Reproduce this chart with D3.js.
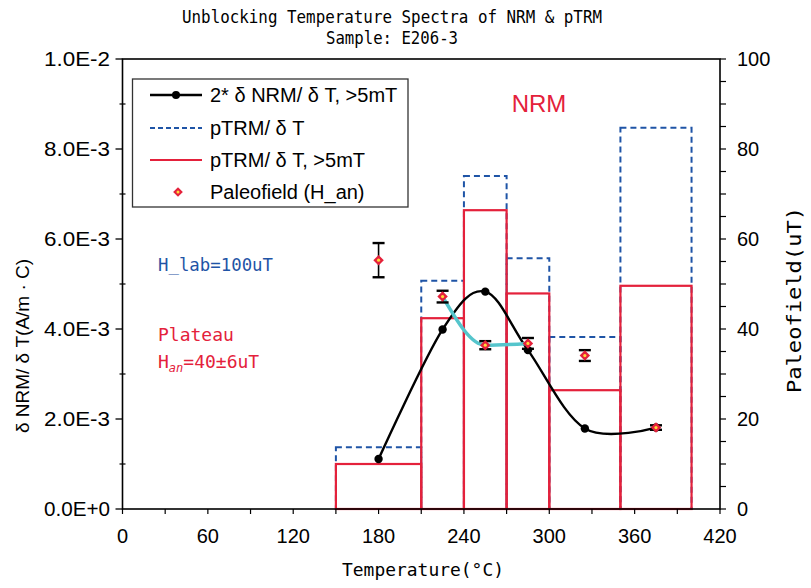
<!DOCTYPE html>
<html>
<head>
<meta charset="utf-8">
<script src="https://cdn.jsdelivr.net/npm/d3@7"></script>
<style>
  html, body { margin: 0; padding: 0; background: #fff; }
  svg { display: block; }
  .sans { font-family: "Liberation Sans", Arial, sans-serif; }
  .mono { font-family: "DejaVu Sans Mono", monospace; }
</style>
</head>
<body>
<svg id="chart" width="811" height="588"></svg>
<script>
// Temperature bins (°C) for the pTRM histograms
const binEdges = [150, 210, 240, 270, 300, 350, 400];
// pTRM/δT, all steps (A/m·C)
const pTRM = [1.37e-3, 5.07e-3, 7.40e-3, 5.57e-3, 3.82e-3, 8.47e-3];
// pTRM/δT, >5mT (A/m·C)
const pTRM5 = [1.00e-3, 4.24e-3, 6.64e-3, 4.79e-3, 2.64e-3, 4.96e-3];
// 2*δNRM/δT, >5mT, at bin midpoints
const nrmTemps = [180, 225, 255, 285, 325, 375];
const nrmValues = [1.11e-3, 3.99e-3, 4.83e-3, 3.53e-3, 1.79e-3, 1.81e-3];
// Paleofield estimates (uT) with errors
const paleoTemps = [180, 225, 255, 285, 325, 375];
const paleoValues = [55.3, 47.2, 36.4, 36.8, 34.1, 18.1];
const paleoErrors = [3.8, 1.3, 0.9, 1.2, 1.2, 0.5];
// Steps that form the plateau
const plateauIdx = [1, 2, 3];

// Axis ticks
const xTickLabels = [0, 60, 120, 180, 240, 300, 360, 420];
const xMinorTicks = d3.range(0, 421, 30);
const yLeftLabels = ["0.0E+0", "2.0E-3", "4.0E-3", "6.0E-3", "8.0E-3", "1.0E-2"];
const yLeftTicks = [0, 0.002, 0.004, 0.006, 0.008, 0.010];
const yLeftMinor = [0.001, 0.003, 0.005, 0.007, 0.009];
const yRightTicks = [0, 20, 40, 60, 80, 100];
const yRightMinor = d3.range(0, 101, 5);

const RED = "#e4213b", BLUE = "#1f54a6", CYAN = "#55c5cc";

const svg = d3.select("#chart");
const L = 122.5, R = 720, T = 59, B = 509;
const x = d3.scaleLinear().domain([0, 420]).range([L, R]);
const yL = d3.scaleLinear().domain([0, 0.01]).range([B, T]);
const yR = d3.scaleLinear().domain([0, 100]).range([B, T]);

// Titles
svg.append("text").attr("class", "mono").attr("x", 392).attr("y", 23)
  .attr("text-anchor", "middle").attr("font-size", 17)
  .attr("textLength", 420).attr("lengthAdjust", "spacingAndGlyphs")
  .text("Unblocking Temperature Spectra of NRM & pTRM");
svg.append("text").attr("class", "mono").attr("x", 392).attr("y", 44)
  .attr("text-anchor", "middle").attr("font-size", 17)
  .attr("textLength", 132).attr("lengthAdjust", "spacingAndGlyphs")
  .text("Sample: E206-3");

// pTRM/δT (dashed blue) bars
const bins = pTRM.map((v, i) => ({x0: binEdges[i], x1: binEdges[i + 1], v, v5: pTRM5[i]}));
svg.append("g").selectAll("rect").data(bins).join("rect")
  .attr("x", d => x(d.x0)).attr("width", d => x(d.x1) - x(d.x0))
  .attr("y", d => yL(d.v)).attr("height", d => yL(0) - yL(d.v))
  .attr("fill", "none").attr("stroke", BLUE).attr("stroke-width", 2)
  .attr("stroke-dasharray", "6,4");

// pTRM/δT >5mT (solid red) bars
svg.append("g").selectAll("rect").data(bins).join("rect")
  .attr("x", d => x(d.x0)).attr("width", d => x(d.x1) - x(d.x0))
  .attr("y", d => yL(d.v5)).attr("height", d => yL(0) - yL(d.v5))
  .attr("fill", "none").attr("stroke", RED).attr("stroke-width", 2.2);

// Axes frame
const ax = svg.append("g").attr("stroke", "#000").attr("fill", "none");
ax.append("rect").attr("x", L).attr("y", T).attr("width", R - L).attr("height", B - T)
  .attr("stroke-width", 1.6);

// Bottom axis ticks and labels
ax.selectAll(".xt").data(xMinorTicks).join("line")
  .attr("x1", d => x(d)).attr("x2", d => x(d)).attr("y1", B).attr("y2", B + 5)
  .attr("stroke-width", 1.2);
svg.append("g").selectAll("text").data(xTickLabels).join("text")
  .attr("class", "sans").attr("x", d => x(d)).attr("y", 543)
  .attr("text-anchor", "middle").attr("font-size", 20).text(d => d);

// Left axis
ax.selectAll(".yl").data(yLeftTicks).join("line")
  .attr("x1", L - 7).attr("x2", L).attr("y1", d => yL(d)).attr("y2", d => yL(d))
  .attr("stroke-width", 1.3);
ax.selectAll(".ylm").data(yLeftMinor).join("line")
  .attr("x1", L - 3).attr("x2", L + 3).attr("y1", d => yL(d)).attr("y2", d => yL(d))
  .attr("stroke-width", 1.2);
svg.append("g").selectAll("text").data(yLeftTicks).join("text")
  .attr("class", "sans").attr("x", 110).attr("y", d => yL(d) + 7)
  .attr("text-anchor", "end").attr("font-size", 20)
  .attr("textLength", 66).attr("lengthAdjust", "spacingAndGlyphs")
  .text((d, i) => yLeftLabels[i]);

// Right axis
ax.selectAll(".yrm").data(yRightMinor).join("line")
  .attr("x1", R).attr("x2", R + 6).attr("y1", d => yR(d)).attr("y2", d => yR(d))
  .attr("stroke-width", 1.2);
svg.append("g").selectAll("text").data(yRightTicks).join("text")
  .attr("class", "sans").attr("x", 737).attr("y", d => yR(d) + 7)
  .attr("font-size", 20).text(d => d);

// Axis titles
svg.append("text").attr("class", "mono").attr("x", 423).attr("y", 576)
  .attr("text-anchor", "middle").attr("font-size", 18)
  .attr("textLength", 162).attr("lengthAdjust", "spacingAndGlyphs")
  .text("Temperature(°C)");
svg.append("text").attr("class", "mono")
  .attr("transform", "translate(801,300) rotate(-90)")
  .attr("text-anchor", "middle").attr("font-size", 20)
  .attr("textLength", 186).attr("lengthAdjust", "spacingAndGlyphs")
  .text("Paleofield(uT)");
svg.append("text").attr("class", "sans")
  .attr("transform", "translate(29,346) rotate(-90)")
  .attr("text-anchor", "middle").attr("font-size", 19)
  .text("δ NRM/ δ T(A/m · C)");

// 2*δNRM/δT smooth curve
const nrmPts = nrmTemps.map((t, i) => [x(t), yL(nrmValues[i])]);
svg.append("path").datum(nrmPts)
  .attr("d", d3.line().curve(d3.curveCardinal.tension(0)))
  .attr("fill", "none").attr("stroke", "#000").attr("stroke-width", 2.4);
svg.append("g").selectAll("circle").data(nrmPts).join("circle")
  .attr("cx", d => d[0]).attr("cy", d => d[1]).attr("r", 4.2).attr("fill", "#000");

// Plateau fit line
const platPts = plateauIdx.map(i => [x(paleoTemps[i]), yR(paleoValues[i])]);
svg.append("path").datum(platPts)
  .attr("d", d3.line().curve(d3.curveMonotoneX))
  .attr("fill", "none").attr("stroke", CYAN).attr("stroke-width", 3.5);

// Paleofield points with error bars
const paleo = paleoTemps.map((t, i) => ({t, v: paleoValues[i], e: paleoErrors[i]}));
const pg = svg.append("g").selectAll("g").data(paleo).join("g");
pg.append("line").attr("x1", d => x(d.t)).attr("x2", d => x(d.t))
  .attr("y1", d => yR(d.v + d.e)).attr("y2", d => yR(d.v - d.e))
  .attr("stroke", "#000").attr("stroke-width", 1.6);
pg.selectAll("line.cap").data(d => [d.v + d.e, d.v - d.e].map(v => ({t: d.t, v})))
  .join("line").attr("class", "cap")
  .attr("x1", d => x(d.t) - 6).attr("x2", d => x(d.t) + 6)
  .attr("y1", d => yR(d.v)).attr("y2", d => yR(d.v))
  .attr("stroke", "#000").attr("stroke-width", 2.4);
pg.append("path")
  .attr("d", d3.symbol().type(d3.symbolDiamond2).size(70))
  .attr("transform", d => `translate(${x(d.t)},${yR(d.v)})`)
  .attr("fill", RED);
pg.append("circle").attr("cx", d => x(d.t)).attr("cy", d => yR(d.v)).attr("r", 1.6)
  .attr("fill", "#ffd83a");

// Legend
const lg = svg.append("g");
lg.append("rect").attr("x", 132.5).attr("y", 79).attr("width", 275.5).attr("height", 128)
  .attr("fill", "#fff").attr("stroke", "#333").attr("stroke-width", 1.3);
const legendRows = [
  {label: "2* δ NRM/ δ T, >5mT", kind: "nrm"},
  {label: "pTRM/ δ T", kind: "ptrm"},
  {label: "pTRM/ δ T, >5mT", kind: "ptrm5"},
  {label: "Paleofield (H_an)", kind: "paleo"}
];
const rowY = [95, 128, 160, 192];
legendRows.forEach((r, i) => {
  const y = rowY[i];
  if (r.kind === "nrm") {
    lg.append("line").attr("x1", 150).attr("x2", 202).attr("y1", y).attr("y2", y)
      .attr("stroke", "#000").attr("stroke-width", 2.4);
    lg.append("circle").attr("cx", 176).attr("cy", y).attr("r", 4).attr("fill", "#000");
  } else if (r.kind === "ptrm") {
    lg.append("line").attr("x1", 150).attr("x2", 202).attr("y1", y).attr("y2", y)
      .attr("stroke", BLUE).attr("stroke-width", 2).attr("stroke-dasharray", "5,3");
  } else if (r.kind === "ptrm5") {
    lg.append("line").attr("x1", 150).attr("x2", 202).attr("y1", y).attr("y2", y)
      .attr("stroke", RED).attr("stroke-width", 2.2);
  } else {
    lg.append("path").attr("d", d3.symbol().type(d3.symbolDiamond2).size(60))
      .attr("transform", `translate(178,${y})`).attr("fill", RED);
    lg.append("circle").attr("cx", 178).attr("cy", y).attr("r", 1.5).attr("fill", "#ffd83a");
  }
  lg.append("text").attr("class", "sans").attr("x", 210).attr("y", y + 7)
    .attr("font-size", 20).text(r.label);
});

// Annotations
svg.append("text").attr("class", "sans").attr("x", 539).attr("y", 112)
  .attr("text-anchor", "middle").attr("font-size", 24).attr("fill", RED)
  .text("NRM");
svg.append("text").attr("class", "mono").attr("x", 158).attr("y", 271)
  .attr("font-size", 17).attr("fill", BLUE)
  .attr("textLength", 115).attr("lengthAdjust", "spacingAndGlyphs")
  .text("H_lab=100uT");
svg.append("text").attr("class", "mono").attr("x", 158).attr("y", 341)
  .attr("font-size", 18).attr("fill", RED).text("Plateau");
const han = svg.append("text").attr("class", "mono").attr("x", 158).attr("y", 368)
  .attr("font-size", 18).attr("fill", RED);
han.append("tspan").text("H");
han.append("tspan").attr("dy", 4).attr("font-size", 12).attr("font-style", "italic").text("an");
han.append("tspan").attr("dy", -4).text("=40±6uT");
</script>
</body>
</html>
